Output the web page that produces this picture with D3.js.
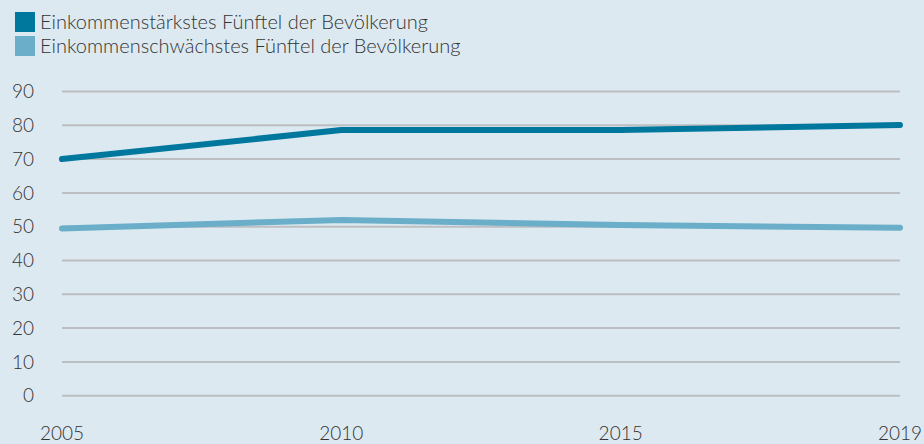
<!DOCTYPE html>
<html>
<head>
<meta charset="utf-8">
<script src="https://cdn.jsdelivr.net/npm/d3@7"></script>
<style>
  html, body { margin: 0; padding: 0; background: #dde9f1; }
  text { font-family: Lato, "Open Sans", sans-serif; font-weight: 300; fill: #333; }
</style>
</head>
<body>
<div id="chart"></div>
<script>
const years = ["2005", "2010", "2015", "2019"];
const topFifth = [70.0, 78.6, 78.6, 80.1];
const bottomFifth = [49.5, 52.0, 50.5, 49.7];
const yTicks = [0, 10, 20, 30, 40, 50, 60, 70, 80, 90];
const seriesNames = ["Einkommenstärkstes Fünftel der Bevölkerung", "Einkommenschwächstes Fünftel der Bevölkerung"];
const seriesColors = ["#00789e", "#6aaec9"];

const width = 924, height = 444;
const svg = d3.select("#chart").append("svg")
  .attr("width", width).attr("height", height);

svg.append("rect").attr("width", width).attr("height", height).attr("fill", "#dde9f1");

const x = d3.scalePoint().domain(years).range([62, 900]);
const y = d3.scaleLinear().domain([0, 90]).range([395.7, 91.5]);

// gridlines
svg.append("g")
  .selectAll("line")
  .data(yTicks)
  .join("line")
  .attr("x1", 62).attr("x2", 900)
  .attr("y1", d => y(d)).attr("y2", d => y(d))
  .attr("stroke", "#bdbec2")
  .attr("stroke-width", 2);

// y labels
svg.append("g")
  .selectAll("text")
  .data(yTicks)
  .join("text")
  .attr("x", 34)
  .attr("y", d => y(d))
  .attr("dy", "0.35em")
  .attr("text-anchor", "end")
  .style("font-size", "19px")
  .text(d => d);

// x labels
svg.append("g")
  .selectAll("text")
  .data(years)
  .join("text")
  .attr("x", d => x(d))
  .attr("y", 440)
  .attr("text-anchor", "middle")
  .style("font-size", "19px")
  .text(d => d);

const line = d3.line()
  .x((d, i) => x(years[i]))
  .y(d => y(d));

[bottomFifth, topFifth].forEach((vals, k) => {
  svg.append("path")
    .attr("d", line(vals))
    .attr("fill", "none")
    .attr("stroke", k === 0 ? seriesColors[1] : seriesColors[0])
    .attr("stroke-width", 6)
    .attr("stroke-linecap", "round")
    .attr("stroke-linejoin", "round");
});

// legend
const legend = svg.append("g")
  .selectAll("g")
  .data(seriesNames)
  .join("g")
  .attr("transform", (d, i) => `translate(15, ${12 + i * 24})`);

legend.append("rect")
  .attr("width", 20).attr("height", 20)
  .attr("fill", (d, i) => seriesColors[i]);

legend.append("text")
  .attr("x", 25)
  .attr("y", 10)
  .attr("dy", "0.35em")
  .style("font-size", "20px")
  .text(d => d);
</script>
</body>
</html>
